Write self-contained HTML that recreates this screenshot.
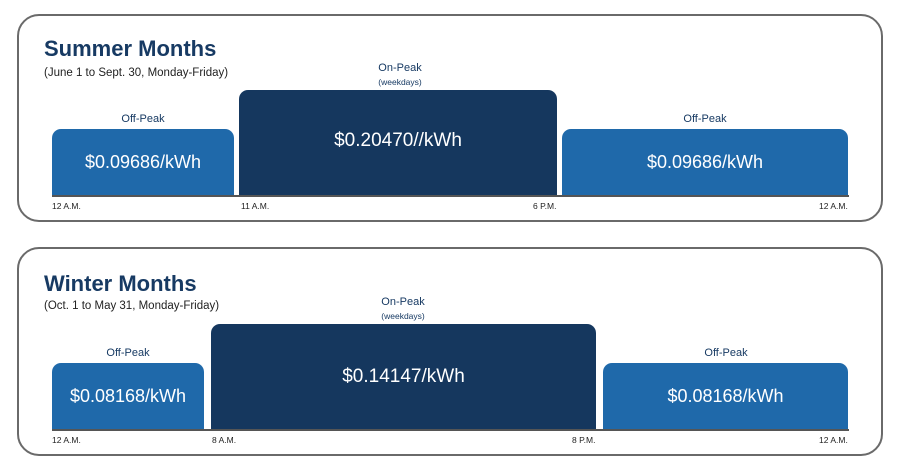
<!DOCTYPE html>
<html><head><style>
body{margin:0;width:900px;height:469px;background:#fff;font-family:"Liberation Sans",sans-serif;position:relative;overflow:hidden}
.p{position:absolute;left:17px;width:866px;border:2px solid #6a6a6a;border-radius:22px;box-sizing:border-box}
.a{position:absolute;}
.t{font-weight:bold;font-size:22px;color:#173a63;left:44px}
.s{font-size:11.5px;color:#222;left:44px}
.b{position:absolute;border-radius:9px 9px 0 0;color:#fff;display:flex;align-items:center;justify-content:center;font-size:18px}
.off{background:#1f69aa}.on{background:#15375e;font-size:19px}
.l{position:absolute;font-size:11px;color:#173a63;text-align:center;transform:translateX(-50%);white-space:nowrap}
.w{font-size:8.5px}
.ax{position:absolute;left:52px;width:797px;height:2px;background:#555}
.k{position:absolute;font-size:8.5px;color:#222;white-space:nowrap}
</style></head><body>
<div class="p" style="top:14px;height:208px"></div>
<div class="a t" style="top:36px">Summer Months</div>
<div class="a s" style="top:67px">(June 1 to Sept. 30, Monday-Friday)</div>
<div class="l" style="left:400px;top:62px">On-Peak</div>
<div class="l w" style="left:400px;top:77px">(weekdays)</div>
<div class="l" style="left:143px;top:113px">Off-Peak</div>
<div class="l" style="left:705px;top:113px">Off-Peak</div>
<div class="b off" style="left:52px;top:129px;width:182px;height:67px">$0.09686/kWh</div>
<div class="b on" style="left:239px;top:90px;width:318px;height:106px;align-items:flex-start;padding-top:40px;box-sizing:border-box">$0.20470//kWh</div>
<div class="b off" style="left:562px;top:129px;width:286px;height:67px">$0.09686/kWh</div>
<div class="ax" style="top:195px"></div>
<div class="k" style="left:52px;top:201px">12 A.M.</div>
<div class="k" style="left:241px;top:201px">11 A.M.</div>
<div class="k" style="left:533px;top:201px">6 P.M.</div>
<div class="k" style="left:819px;top:201px">12 A.M.</div>

<div class="p" style="top:247px;height:209px"></div>
<div class="a t" style="top:271px">Winter Months</div>
<div class="a s" style="top:300px">(Oct. 1 to May 31, Monday-Friday)</div>
<div class="l" style="left:403px;top:296px">On-Peak</div>
<div class="l w" style="left:403px;top:311px">(weekdays)</div>
<div class="l" style="left:128px;top:347px">Off-Peak</div>
<div class="l" style="left:726px;top:347px">Off-Peak</div>
<div class="b off" style="left:52px;top:363px;width:152px;height:67px">$0.08168/kWh</div>
<div class="b on" style="left:211px;top:324px;width:385px;height:106px;align-items:flex-start;padding-top:42px;box-sizing:border-box">$0.14147/kWh</div>
<div class="b off" style="left:603px;top:363px;width:245px;height:67px">$0.08168/kWh</div>
<div class="ax" style="top:429px"></div>
<div class="k" style="left:52px;top:435px">12 A.M.</div>
<div class="k" style="left:212px;top:435px">8 A.M.</div>
<div class="k" style="left:572px;top:435px">8 P.M.</div>
<div class="k" style="left:819px;top:435px">12 A.M.</div>
</body></html>
